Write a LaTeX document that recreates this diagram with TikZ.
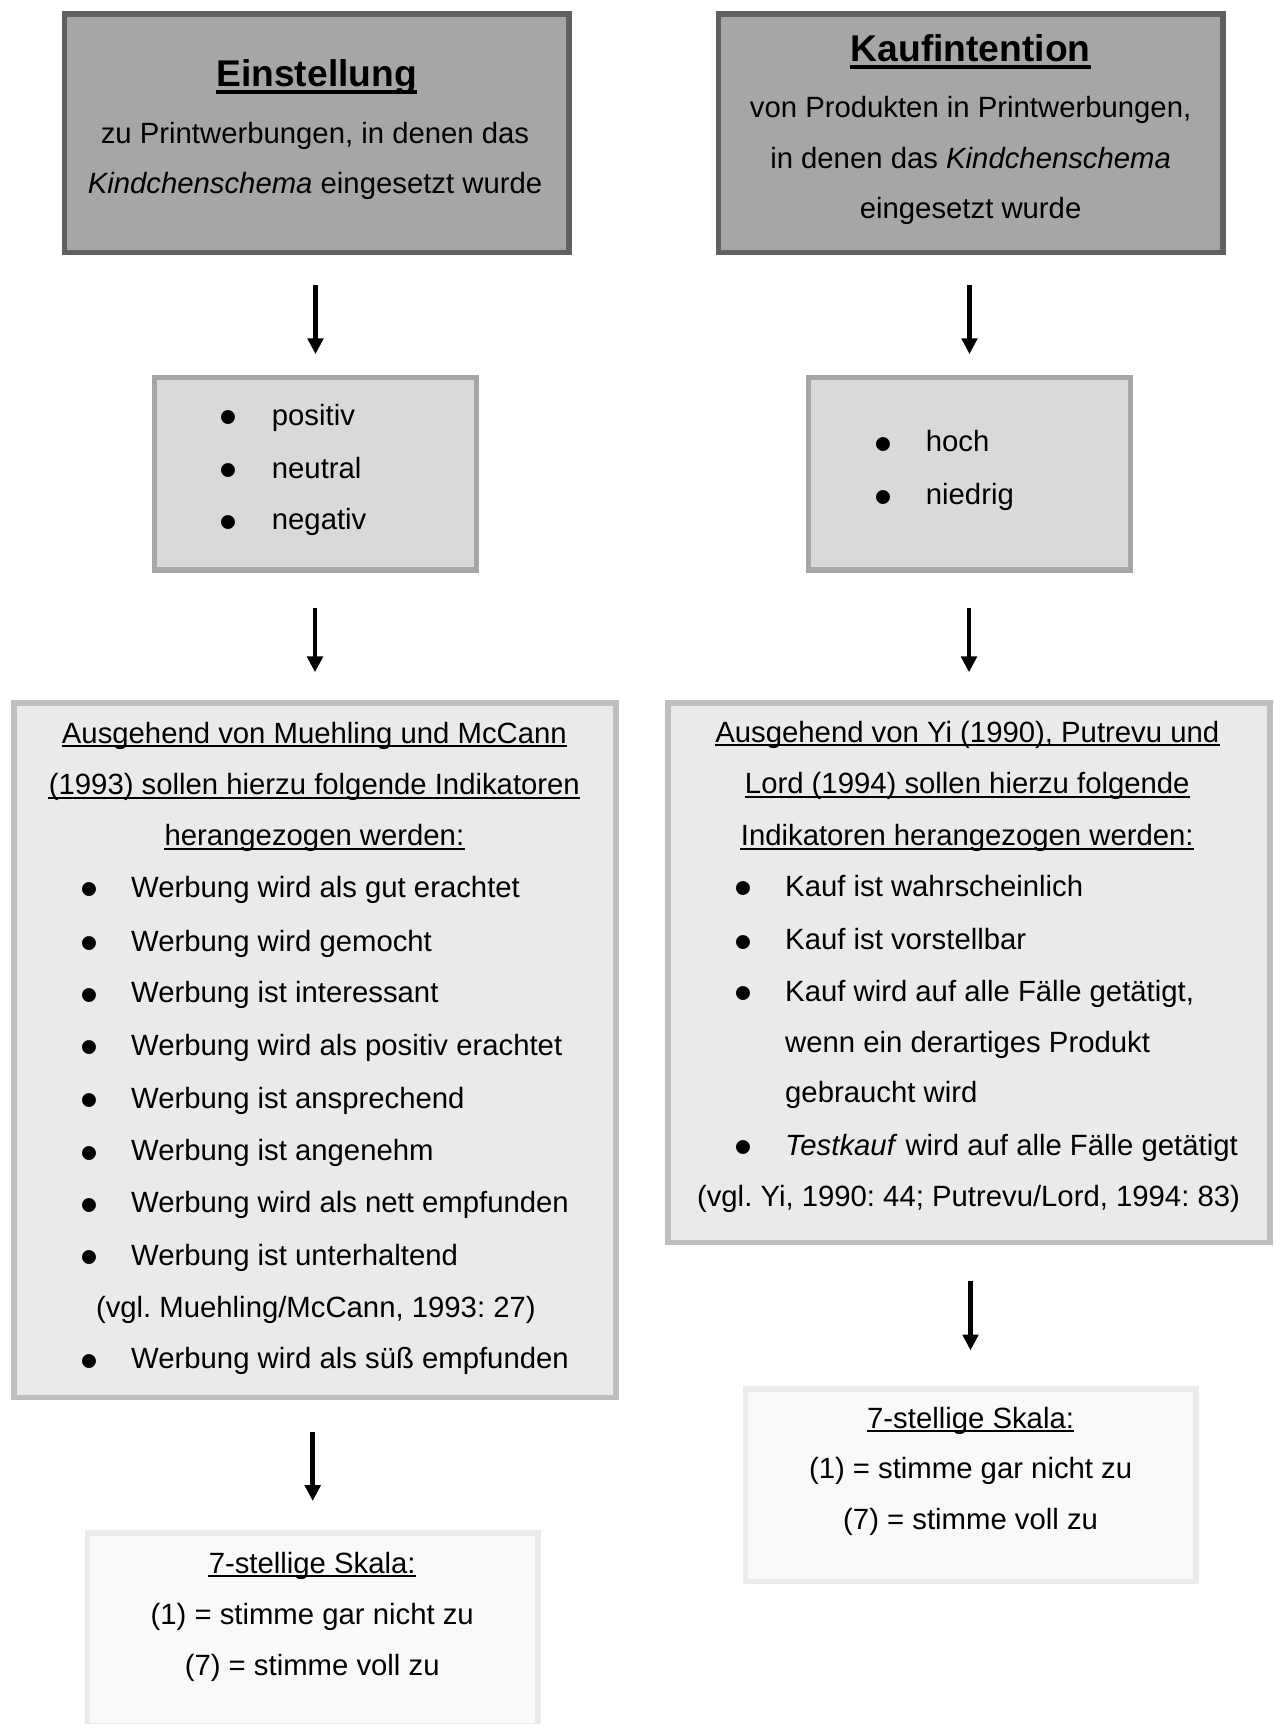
\documentclass[tikz,border=0pt]{standalone}
\usepackage{fontspec}
\setmainfont{Liberation Sans}
\usetikzlibrary{arrows.meta,calc}
\frenchspacing
\definecolor{cOneFill}{HTML}{A6A6A6}
\definecolor{cOneDraw}{HTML}{606060}
\definecolor{cTwoFill}{HTML}{D9D9D9}
\definecolor{cTwoDraw}{HTML}{A6A6A6}
\definecolor{cThreeFill}{HTML}{EAEAEA}
\definecolor{cThreeDraw}{HTML}{BFBFBF}
\definecolor{cFourFill}{HTML}{F9F9F9}
\definecolor{cFourDraw}{HTML}{EBEBEB}
\newcommand\ULn[1]{\draw[uline] ($(#1.base west)+(0,3.2)$) -- ($(#1.base east)+(0,3.2)$);}
\newcommand\ULt[1]{\draw[tline] ($(#1.base west)+(0,5.5)$) -- ($(#1.base east)+(0,5.5)$);}
\begin{document}
\begin{tikzpicture}[x=0.5pt,y=-0.5pt,
  every node/.style={font=\fontsize{14.65pt}{26pt}\selectfont\frenchspacing},
  box/.style={draw, line width=2.75pt, inner sep=0pt},
  boxone/.style={box, draw=cOneDraw, fill=cOneFill, minimum width=252.25pt, minimum height=119.25pt},
  boxtwo/.style={box, draw=cTwoDraw, fill=cTwoFill, minimum width=161.05pt, minimum height=96.25pt},
  boxthree/.style={box, draw=cThreeDraw, fill=cThreeFill, minimum width=301.2pt},
  boxfour/.style={box, draw=cFourDraw, fill=cFourFill, minimum width=225.25pt, minimum height=96.25pt},
  tc/.style={anchor=base, inner sep=0pt},
  tl/.style={anchor=base west, inner sep=0pt},
  bul/.style={anchor=center, inner sep=0pt, yshift=1.25pt, font=\fontsize{25.6pt}{26pt}\selectfont},
  ttl/.style={tc, font=\fontsize{18.6pt}{22pt}\selectfont\bfseries},
  arr/.style={line width=2.35pt, -{Triangle[width=7.7pt,length=7.9pt]}},
  uline/.style={line width=1.05pt},
  tline/.style={line width=1.8pt}]
\useasboundingbox (0,0) rectangle (1274,1724);

% ---------- boxes ----------
\node[boxone] (a1) at (316.6,133) {};
\node[boxone] (b1) at (970.6,133) {};
\node[boxtwo] (a2) at (315.5,473.7) {};
\node[boxtwo] (b2) at (969.5,473.7) {};
\node[boxthree, minimum height=347.35pt] (a3) at (315,1050.3) {};
\node[boxthree, minimum height=269.85pt] (b3) at (969,972.8) {};
\node[boxfour] (a4) at (312.7,1629) {};
\node[boxfour] (b4) at (970.5,1485) {};

% ---------- arrows ----------
\draw[arr] ($(a2.north |- a1.south)+(0,30.25)$) -- ($(a2.north)+(0,-20.55)$);
\draw[arr] ($(b2.north |- b1.south)+(0,30.25)$) -- ($(b2.north)+(0,-20.55)$);
\draw[arr] ($(a3.north |- a2.south)+(0,35.75)$) -- ($(a3.north)+(0,-27.95)$);
\draw[arr] ($(b3.north |- b2.south)+(0,35.75)$) -- ($(b3.north)+(0,-27.95)$);
\draw[arr] ($(a4.north |- a3.south)+(0,31.35)$) -- ($(a4.north)+(0,-29.05)$);
\draw[arr] ($(b4.north |- b3.south)+(0,35.75)$) -- ($(b4.north)+(0,-35.65)$);

% ---------- A1 ----------
\node[ttl] (a1t) at (316.6,86.6) {Einstellung};
\ULt{a1t}
\node[tc] (a1l1) at (315,143) {zu Printwerbungen, in denen das};
\node[tc] (a1l2) at (315,193.6) {\textit{Kindchenschema} eingesetzt wurde};

% ---------- B1 ----------
\node[ttl] (b1t) at (970.6,61.4) {Kaufintention};
\ULt{b1t}
\node[tc] (b1l1) at (970.6,117.7) {von Produkten in Printwerbungen,};
\node[tc] (b1l2) at (970.6,168.3) {in denen das \textit{Kindchenschema}};
\node[tc] (b1l3) at (970.6,218.8) {eingesetzt wurde};

% ---------- A2 ----------
\foreach \y/\t [count=\i] in {425.5/positiv, 478.3/neutral, 529.9/negativ} {
  \node[bul] (a2b\i) at (228.6,\y) {•};
  \node[tl] (a2t\i) at (271.5,\y) {\t};
}

% ---------- B2 ----------
\foreach \y/\t [count=\i] in {451.9/hoch, 504.6/niedrig} {
  \node[bul] (b2b\i) at (883.8,\y) {•};
  \node[tl] (b2t\i) at (925.5,\y) {\t};
}

% ---------- A3 ----------
\node[tc] (a3h1) at (314.4,743.2) {Ausgehend von Muehling und McCann};
\node[tc] (a3h2) at (314.4,794.8) {(1993) sollen hierzu folgende Indikatoren};
\node[tc] (a3h3) at (314.4,845.4) {herangezogen werden:};
\ULn{a3h1}\ULn{a3h2}\ULn{a3h3}
\foreach \y/\t [count=\i] in {897/Werbung wird als gut erachtet, 951/Werbung wird gemocht,
  1002.6/Werbung ist interessant, 1055.3/Werbung wird als positiv erachtet,
  1108.1/Werbung ist ansprechend, 1160.9/Werbung ist angenehm,
  1212.6/Werbung wird als nett empfunden, 1265.3/Werbung ist unterhaltend,
  1368.6/Werbung wird als süß empfunden} {
  \node[bul] (a3b\i) at (89,\y) {•};
  \node[tl] (a3t\i) at (130.8,\y) {\t};
}
\node[tl] (a3v) at (95.6,1317) {(vgl. Muehling/McCann, 1993: 27)};

% ---------- B3 ----------
\node[tc] (b3h1) at (967.3,742) {Ausgehend von Yi (1990), Putrevu und};
\node[tc] (b3h2) at (967.3,793.7) {Lord (1994) sollen hierzu folgende};
\node[tc] (b3h3) at (967.3,845.4) {Indikatoren herangezogen werden:};
\ULn{b3h1}\ULn{b3h2}\ULn{b3h3}
\node[bul] (b3b1) at (743,896) {•};
\node[tl] (b3t1) at (784.8,896) {Kauf ist wahrscheinlich};
\node[bul] (b3b2) at (743,949.8) {•};
\node[tl] (b3t2) at (784.8,949.8) {Kauf ist vorstellbar};
\node[bul] (b3b3) at (743,1001.5) {•};
\node[tl] (b3t3) at (784.8,1001.5) {Kauf wird auf alle Fälle getätigt,};
\node[tl] (b3t3b) at (784.8,1052) {wenn ein derartiges Produkt};
\node[tl] (b3t3c) at (784.8,1102.6) {gebraucht wird};
\node[bul] (b3b4) at (743,1155.4) {•};
\node[tl] (b3t4) at (784.8,1155.4) {\textit{Testkauf} wird auf alle Fälle getätigt};
\node[tc] (b3v) at (968.5,1206) {(vgl. Yi, 1990: 44; Putrevu/Lord, 1994: 83)};

% ---------- A4 ----------
\node[tc] (a4h) at (312.2,1573) {7-stellige Skala:};
\ULn{a4h}
\node[tc] (a4l1) at (312.2,1624.7) {(1) = stimme gar nicht zu};
\node[tc] (a4l2) at (312.2,1675.3) {(7) = stimme voll zu};

% ---------- B4 ----------
\node[tc] (b4h) at (970.6,1428) {7-stellige Skala:};
\ULn{b4h}
\node[tc] (b4l1) at (970.6,1478.5) {(1) = stimme gar nicht zu};
\node[tc] (b4l2) at (970.6,1529) {(7) = stimme voll zu};
\end{tikzpicture}
\end{document}
